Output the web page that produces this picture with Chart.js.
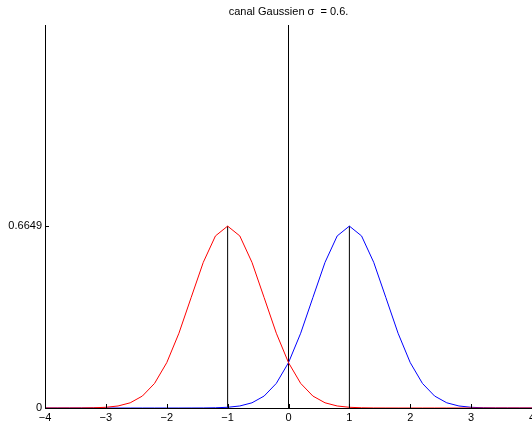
<!DOCTYPE html>
<html>
<head>
<meta charset="utf-8">
<script src="https://cdn.jsdelivr.net/npm/chart.js@4.4.1/dist/chart.umd.min.js"></script>
<style>
  html, body { margin: 0; padding: 0; background: #fff; }
  #wrap { width: 532px; height: 423px; }
</style>
</head>
<body>
<div id="wrap"><canvas id="grafico" width="532" height="423"></canvas></div>
<script>
// abscisses échantillonnées (pas 0.2)
const xs = [-4.0, -3.8, -3.6, -3.4, -3.2, -3.0, -2.8, -2.6, -2.4, -2.2,
            -2.0, -1.8, -1.6, -1.4, -1.2, -1.0, -0.8, -0.6, -0.4, -0.2,
             0.0,  0.2,  0.4,  0.6,  0.8,  1.0,  1.2,  1.4,  1.6,  1.8,
             2.0,  2.2,  2.4,  2.6,  2.8,  3.0,  3.2,  3.4,  3.6,  3.8, 4.0];

// densité centrée en -1
const rouge = [0, 0, 0.0001, 0.0002, 0.0008, 0.0026, 0.0074, 0.0190, 0.0437, 0.0900,
               0.1658, 0.2733, 0.4033, 0.5324, 0.6290, 0.6649, 0.6290, 0.5324, 0.4033, 0.2733,
               0.1658, 0.0900, 0.0437, 0.0190, 0.0074, 0.0026, 0.0008, 0.0002, 0.0001, 0,
               0, 0, 0, 0, 0, 0, 0, 0, 0, 0, 0];

// densité centrée en +1
const bleu = [0, 0, 0, 0, 0, 0, 0, 0, 0, 0,
              0, 0, 0.0001, 0.0002, 0.0008, 0.0026, 0.0074, 0.0190, 0.0437, 0.0900,
              0.1658, 0.2733, 0.4033, 0.5324, 0.6290, 0.6649, 0.6290, 0.5324, 0.4033, 0.2733,
              0.1658, 0.0900, 0.0437, 0.0190, 0.0074, 0.0026, 0.0008, 0.0002, 0.0001, 0, 0];

const centres = [-1, 1];
const pic = 0.6649;
const xTicks = [-4, -3, -2, -1, 0, 1, 2, 3, 4];
const yTicks = [0, 0.6649];
const yMax = 1.4;

const pts = (ys) => xs.map((x, i) => ({ x: x, y: ys[i] }));

// petites graduations vers l'intérieur
const graduations = {
    id: 'graduations',
    afterDraw(chart) {
        const c = chart.ctx, xs_ = chart.scales.x, ys_ = chart.scales.y;
        const a = chart.chartArea;
        c.save();
        c.strokeStyle = '#000';
        c.lineWidth = 1;
        c.beginPath();
        xTicks.forEach(v => {
            const px = Math.round(xs_.getPixelForValue(v)) + 0.5;
            c.moveTo(px, a.bottom);
            c.lineTo(px, a.bottom - 4);
        });
        yTicks.forEach(v => {
            const py = Math.round(ys_.getPixelForValue(v)) + 0.5;
            c.moveTo(a.left, py);
            c.lineTo(a.left + 4, py);
        });
        c.stroke();
        c.restore();
    }
};

const ctx = document.getElementById('grafico').getContext('2d');
new Chart(ctx, {
    type: 'line',
    data: {
        datasets: [
            {
                data: pts(rouge),
                borderColor: '#ff0000',
                borderWidth: 1,
                pointRadius: 0,
                fill: false
            },
            {
                data: pts(bleu),
                borderColor: '#0000ff',
                borderWidth: 1,
                pointRadius: 0,
                fill: false
            },
            {
                data: [{ x: centres[0], y: 0 }, { x: centres[0], y: pic }],
                borderColor: '#000',
                borderWidth: 1,
                pointRadius: 0
            },
            {
                data: [{ x: centres[1], y: 0 }, { x: centres[1], y: pic }],
                borderColor: '#000',
                borderWidth: 1,
                pointRadius: 0
            },
            {
                data: [{ x: 0, y: 0 }, { x: 0, y: yMax }],
                borderColor: '#000',
                borderWidth: 1,
                pointRadius: 0
            }
        ]
    },
    options: {
        responsive: false,
        animation: false,
        layout: { padding: 0 },
        elements: { line: { tension: 0 } },
        scales: {
            x: {
                type: 'linear',
                min: -4,
                max: 4,
                afterBuildTicks: s => { s.ticks = xTicks.map(v => ({ value: v })); },
                afterFit: s => { s.height = 15; s.paddingLeft = 0; s.paddingRight = 0; },
                grid: { display: false, drawTicks: false },
                border: { display: true, color: '#000', width: 1 },
                ticks: {
                    autoSkip: false,
                    maxRotation: 0,
                    padding: 3,
                    color: '#000',
                    font: { family: 'Liberation Sans, Arial, sans-serif', size: 11 },
                    callback: v => String(v).replace('-', '\u2212')
                }
            },
            y: {
                min: 0,
                max: yMax,
                afterBuildTicks: s => { s.ticks = yTicks.map(v => ({ value: v })); },
                afterFit: s => { s.width = 45; },
                grid: { display: false, drawTicks: false },
                border: { display: true, color: '#000', width: 1 },
                ticks: {
                    autoSkip: false,
                    padding: 3,
                    color: '#000',
                    font: { family: 'Liberation Sans, Arial, sans-serif', size: 11 },
                    callback: v => String(v)
                }
            }
        },
        plugins: {
            legend: { display: false },
            tooltip: { enabled: false },
            title: {
                display: true,
                text: 'canal Gaussien \u03c3  = 0.6.',
                fullSize: false,
                color: '#000',
                font: { family: 'Liberation Sans, Arial, sans-serif', size: 11, weight: 'normal' },
                padding: { top: 5, bottom: 6.8 }
            }
        }
    },
    plugins: [graduations]
});
</script>
</body>
</html>
